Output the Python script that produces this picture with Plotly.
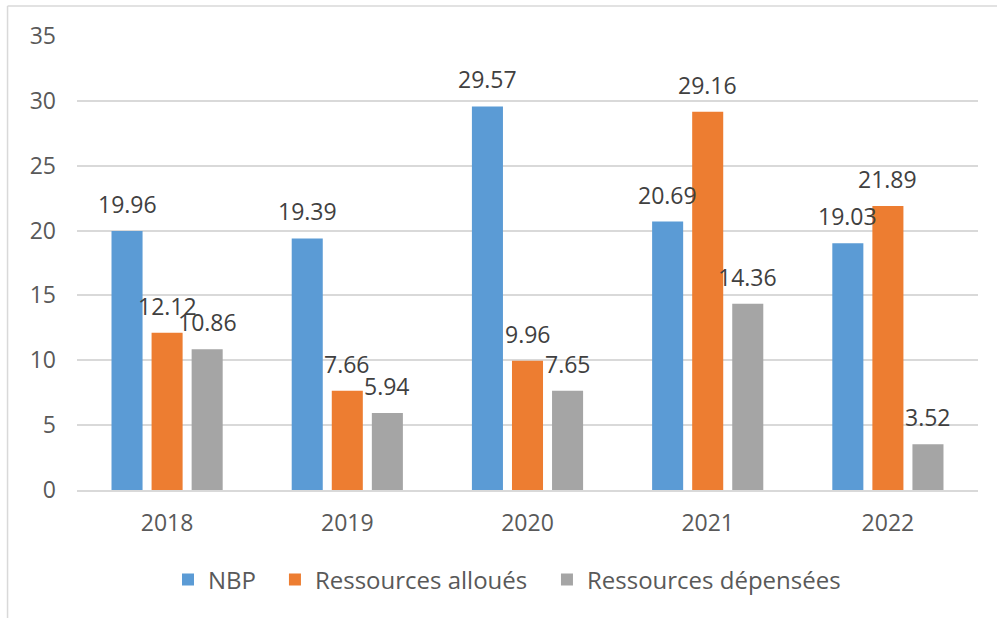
import plotly.graph_objects as go

years = ["2018", "2019", "2020", "2021", "2022"]
nbp = [19.96, 19.39, 29.57, 20.69, 19.03]
alloues = [12.12, 7.66, 9.96, 29.16, 21.89]
depensees = [10.86, 5.94, 7.65, 14.36, 3.52]
series_names = ["NBP", "Ressources alloués", "Ressources dépensées"]
colors = ["#5B9BD5", "#ED7D31", "#A5A5A5"]
y_ticks = [0, 5, 10, 15, 20, 25, 30, 35]

FONT = "Open Sans"
fig = go.Figure()
series = [nbp, alloues, depensees]
legend_ids = ["legend", "legend2", "legend3"]
for name, vals, col, lg in zip(series_names, series, colors, legend_ids):
    fig.add_trace(go.Bar(x=years, y=vals, name=name, marker_color=col,
                         marker_line_width=0, legend=lg, showlegend=True))

annots = []
for i, vals in enumerate(series):
    for k, v in enumerate(vals):
        # category index k corresponds to years[k]
        annots.append(dict(x=k, y=v, xref="x", yref="y", text=f"{v:.2f}",
                           showarrow=False, xshift=(i - 1) * 40, yshift=27,
                           yanchor="middle",
                           font=dict(family=FONT, size=23, color="#404040")))

leg_x = [0.101, 0.2197, 0.5216]
leg_common = dict(orientation="h", xanchor="left", y=-0.198, yanchor="middle",
                  font=dict(family=FONT, size=24, color="#595959"),
                  itemwidth=30, bgcolor="rgba(0,0,0,0)")

fig.update_layout(
    width=997, height=618,
    showlegend=True,
    margin=dict(l=77, r=19, t=36, b=128),
    paper_bgcolor="white", plot_bgcolor="white",
    barmode="group", bargap=0.333, bargroupgap=0.225,
    font=dict(family=FONT, size=23, color="#595959"),
    annotations=annots,
    legend=dict(x=leg_x[0], **leg_common),
    legend2=dict(x=leg_x[1], **leg_common),
    legend3=dict(x=leg_x[2], **leg_common),
    shapes=[
        dict(type="line", xref="paper", yref="paper", x0=-0.0771, x1=-0.0771,
             y0=1.066, y1=-0.3, line=dict(color="#d9d9d9", width=1.5)),
        dict(type="line", xref="paper", yref="paper", x0=-0.0771, x1=1.03,
             y0=1.066, y1=1.066, line=dict(color="#d9d9d9", width=1.5)),
    ],
)
fig.update_yaxes(range=[0, 35], tickvals=y_ticks, showgrid=True,
                 gridcolor="#d9d9d9", gridwidth=1.5, zeroline=False,
                 showline=False, ticklabelstandoff=20,
                 tickfont=dict(family=FONT, size=23, color="#595959"))
fig.update_xaxes(type="category", categoryorder="array", categoryarray=years,
                 range=[-0.5, len(years) - 0.5], autorange=False,
                 showline=True, linecolor="#d9d9d9",
                 linewidth=1.5, ticklabelstandoff=12,
                 tickfont=dict(family=FONT, size=23, color="#595959"))

fig.write_html("out.html", config={"displayModeBar": False},
               post_script="document.body.style.margin='0';document.body.style.overflow='hidden';")
